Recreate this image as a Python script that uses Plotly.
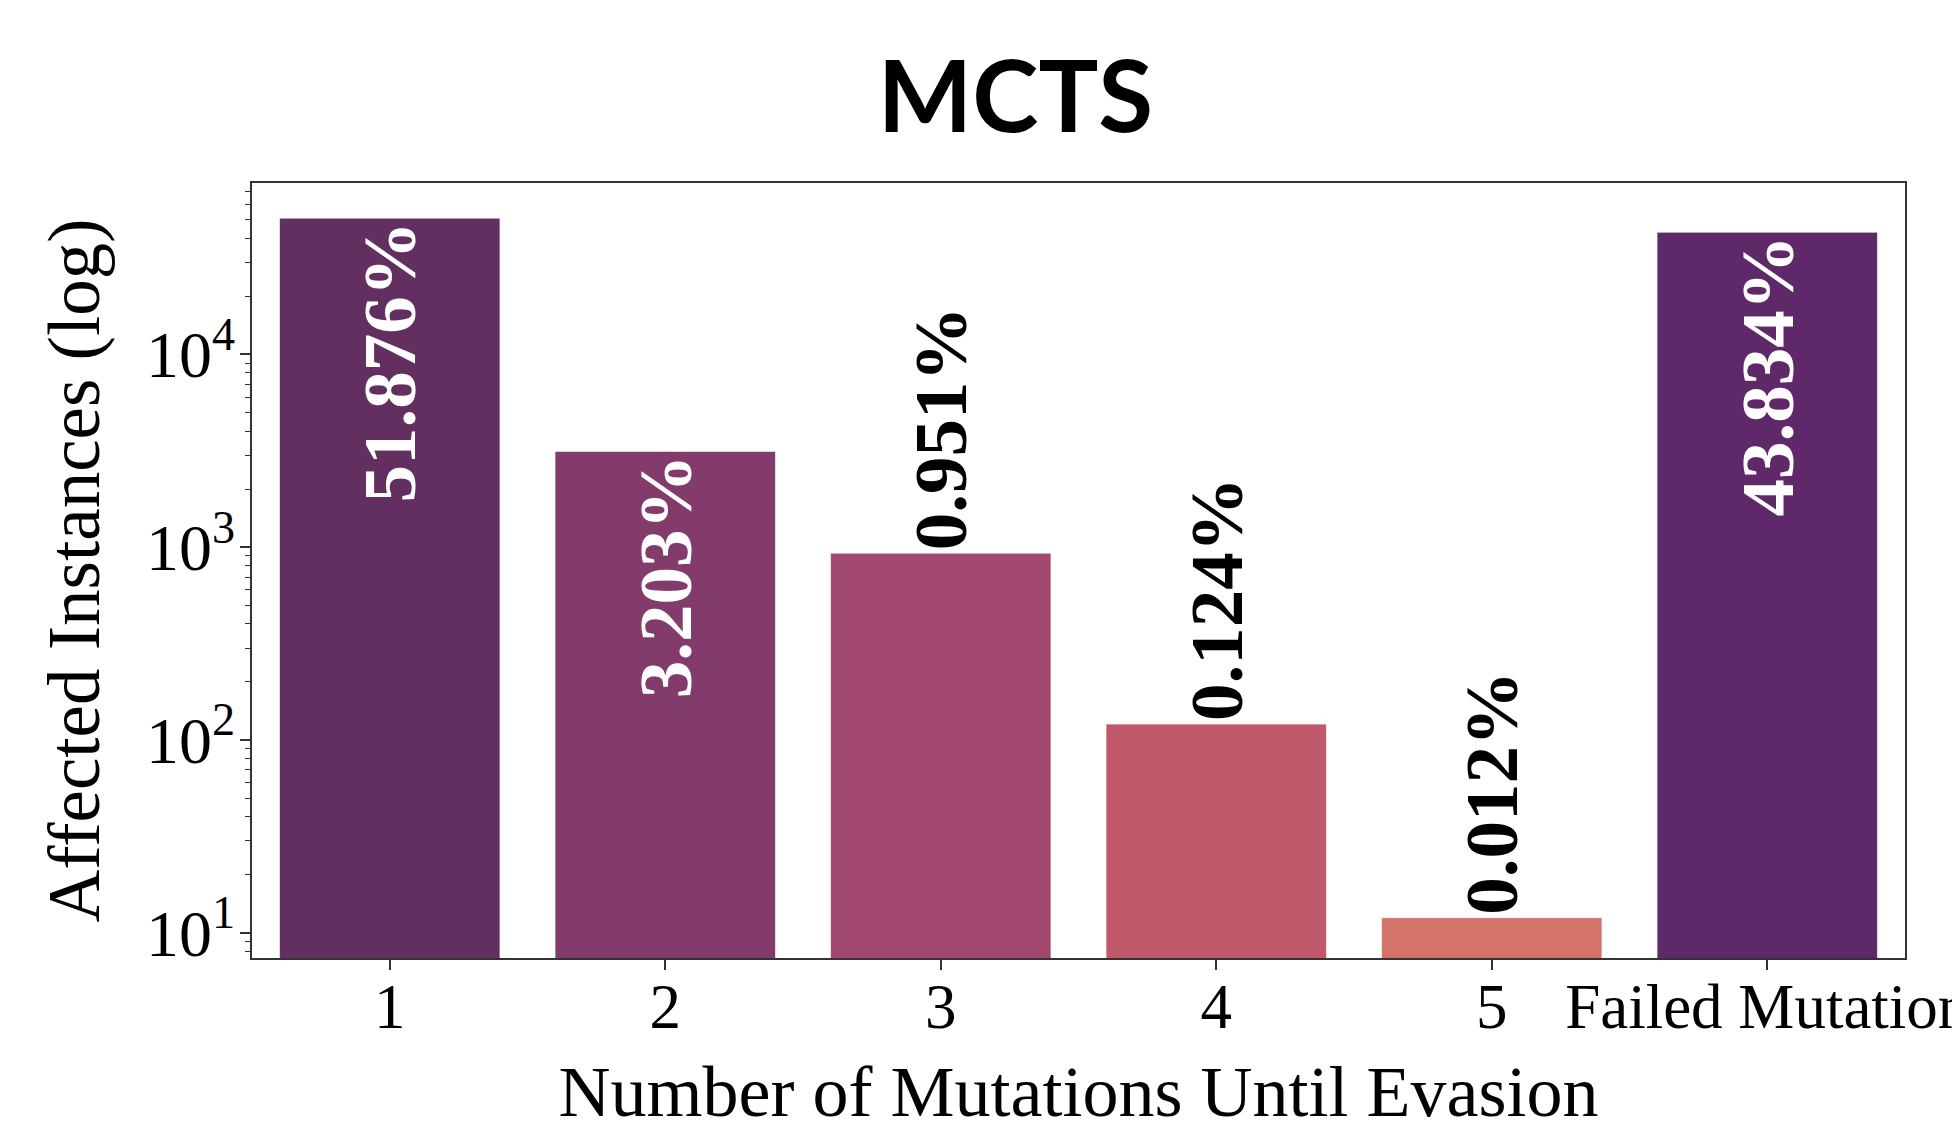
import plotly.graph_objects as go

categories = ["1", "2", "3", "4", "5", "Failed Mutation"]
counts = [50788, 3136, 931, 121, 12, 42913]
pct_labels = ["51.876%", "3.203%", "0.951%", "0.124%", "0.012%", "43.834%"]
bar_colors = ["#632f60", "#833b6c", "#a2486e", "#c05a6a", "#d4736a", "#5f2868"]
label_positions = ["inside", "inside", "outside", "outside", "outside", "inside"]
label_colors = ["white", "white", "black", "black", "black", "white"]
y_tick_vals = [10, 100, 1000, 10000]
y_tick_text = ["10<sup>1</sup>", "10<sup>2</sup>", "10<sup>3</sup>", "10<sup>4</sup>"]
y_minor_vals = [m * 10 ** e for e in range(0, 5) for m in range(2, 10)]

SERIF = "Liberation Serif, Times New Roman, serif"

fig = go.Figure()
fig.add_trace(go.Bar(
    x=categories,
    y=counts,
    width=0.8,
    marker=dict(color=bar_colors, line=dict(color="rgba(255,255,255,0.6)", width=1)),
    text=pct_labels,
    textposition=label_positions,
    insidetextanchor="end",
    textangle=-90,
    textfont=dict(family=SERIF, size=75, color=label_colors, weight="bold"),
    constraintext="none",
    cliponaxis=False,
    showlegend=False,
))

fig.update_layout(
    width=1960,
    height=1127,
    paper_bgcolor="white",
    plot_bgcolor="white",
    margin=dict(l=244, r=63, t=175, b=177, autoexpand=False),
    title=dict(
        text="<b>MCTS</b>",
        font=dict(family="Lato, Noto Sans, sans-serif", size=100, color="black"),
        x=0.514, xref="container", xanchor="center",
        y=0.921, yref="container", yanchor="middle",
    ),
    bargap=0.2,
)

fig.update_xaxes(
    type="category",
    range=[-0.5, 5.5],
    showline=True, linecolor="#333", linewidth=1.5, mirror=True,
    ticks="outside", ticklen=10, tickwidth=1.5, tickcolor="#333",
    tickfont=dict(family=SERIF, size=63, color="black"),
    ticklabelstandoff=-17,
    showgrid=False,
    title=dict(text="Number of Mutations Until Evasion",
               font=dict(family=SERIF, size=72, color="black"), standoff=24),
)

fig.update_yaxes(
    type="log",
    range=[0.87, 4.888],
    tickvals=y_tick_vals,
    ticktext=y_tick_text,
    showline=True, linecolor="#333", linewidth=1.5, mirror=True,
    ticks="outside", ticklen=10, tickwidth=1.5, tickcolor="#333",
    minor=dict(tickvals=y_minor_vals, ticks="outside", ticklen=5, tickwidth=1,
               tickcolor="#333", showgrid=False),
    tickfont=dict(family=SERIF, size=66, color="black"),
    ticklabelstandoff=-8,
    showgrid=False,
    zeroline=False,
    title=dict(text="Affected Instances (log)",
               font=dict(family=SERIF, size=73, color="black"), standoff=22),
)

fig.write_html("out.html")
